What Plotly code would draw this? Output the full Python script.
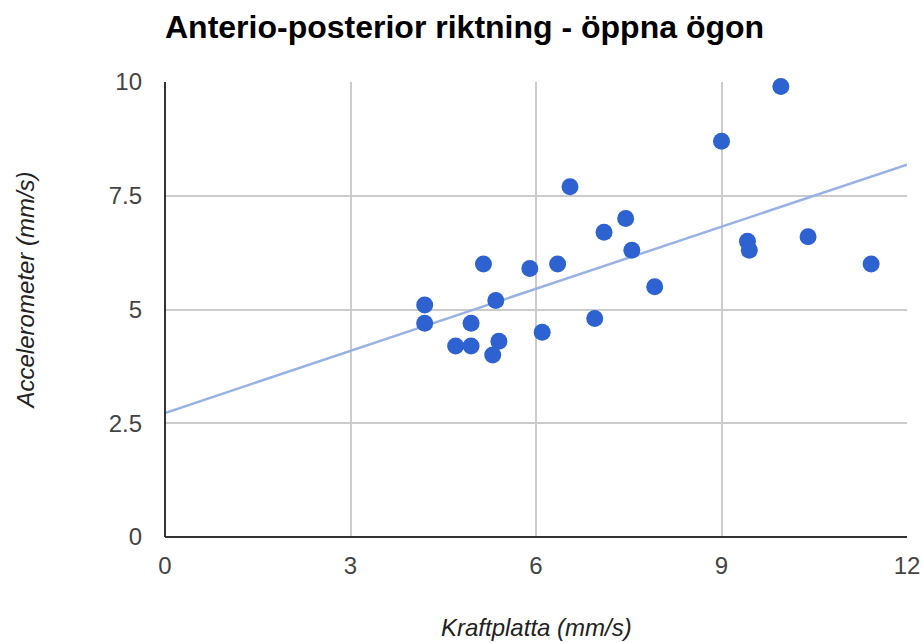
import numpy as np
import plotly.graph_objects as go

kraftplatta = [4.2, 4.2, 4.7, 4.95, 4.95, 5.15, 5.3, 5.4, 5.35, 5.9, 6.1, 6.35, 6.55, 6.95,
               7.1, 7.45, 7.55, 7.92, 9.0, 9.42, 9.45, 9.96, 10.4, 11.42]
accelerometer = [5.1, 4.7, 4.2, 4.2, 4.7, 6.0, 4.0, 4.3, 5.2, 5.9, 4.5, 6.0, 7.7, 4.8,
                 6.7, 7.0, 6.3, 5.5, 8.7, 6.5, 6.3, 9.9, 6.6, 6.0]
x_ticks = [0, 3, 6, 9, 12]
y_ticks = [0, 2.5, 5, 7.5, 10]
y_tick_labels = ["0", "2.5", "5", "7.5", "10"]

slope, intercept = np.polyfit(kraftplatta, accelerometer, 1)
trend_x = [0, 12]
trend_y = [intercept + slope * v for v in trend_x]

fig = go.Figure()
fig.add_trace(go.Scatter(x=trend_x, y=trend_y, mode="lines",
                         line=dict(color="#98B2E6", width=2.5), hoverinfo="skip",
                         showlegend=False, cliponaxis=False))
fig.add_trace(go.Scatter(x=kraftplatta, y=accelerometer, mode="markers",
                         marker=dict(color="#2D62D0", size=17, line=dict(width=0)),
                         showlegend=False, cliponaxis=False))

fig.update_layout(
    width=923, height=643,
    margin=dict(l=165, r=16, t=82, b=106),
    paper_bgcolor="white", plot_bgcolor="white",
    font=dict(family="Liberation Sans, Arial, sans-serif", color="#444444"),
    title=dict(text="<b>Anterio-posterior riktning - öppna ögon</b>",
               font=dict(size=32, color="#000000"),
               x=0, xref="paper", xanchor="left", y=0.958, yanchor="middle"),
    xaxis=dict(range=[0, 12], tickvals=x_ticks, ticktext=[str(v) for v in x_ticks],
               showgrid=True, gridcolor="#CCCCCC", gridwidth=1.5,
               zeroline=False, showline=False, ticks="", automargin=False,
               tickfont=dict(size=24, color="#444444"), ticklabelstandoff=12),
    yaxis=dict(range=[0, 10], tickvals=y_ticks, ticktext=y_tick_labels,
               showgrid=True, gridcolor="#CCCCCC", gridwidth=1.5,
               zeroline=False, showline=False, ticks="", automargin=False,
               tickfont=dict(size=24, color="#444444"), ticklabelstandoff=22),
)
fig.add_annotation(text="<i>Kraftplatta (mm/s)</i>", xref="paper", yref="paper",
                   x=0.5, y=-0.198, xanchor="center", yanchor="middle", showarrow=False,
                   font=dict(size=24, color="#222222"))
fig.add_annotation(text="<i>Accelerometer (mm/s)</i>", xref="paper", yref="paper",
                   x=-0.188, y=0.5407, xanchor="center", yanchor="middle", showarrow=False,
                   textangle=-90, font=dict(size=24, color="#222222"))
# dark axis baselines on left and bottom
fig.add_shape(type="line", xref="paper", yref="paper", x0=0, x1=1, y0=0, y1=0,
              line=dict(color="#333333", width=2), layer="above")
fig.add_shape(type="line", xref="paper", yref="paper", x0=0, x1=0, y0=0, y1=1,
              line=dict(color="#333333", width=2), layer="above")

fig.write_html("out.html")
